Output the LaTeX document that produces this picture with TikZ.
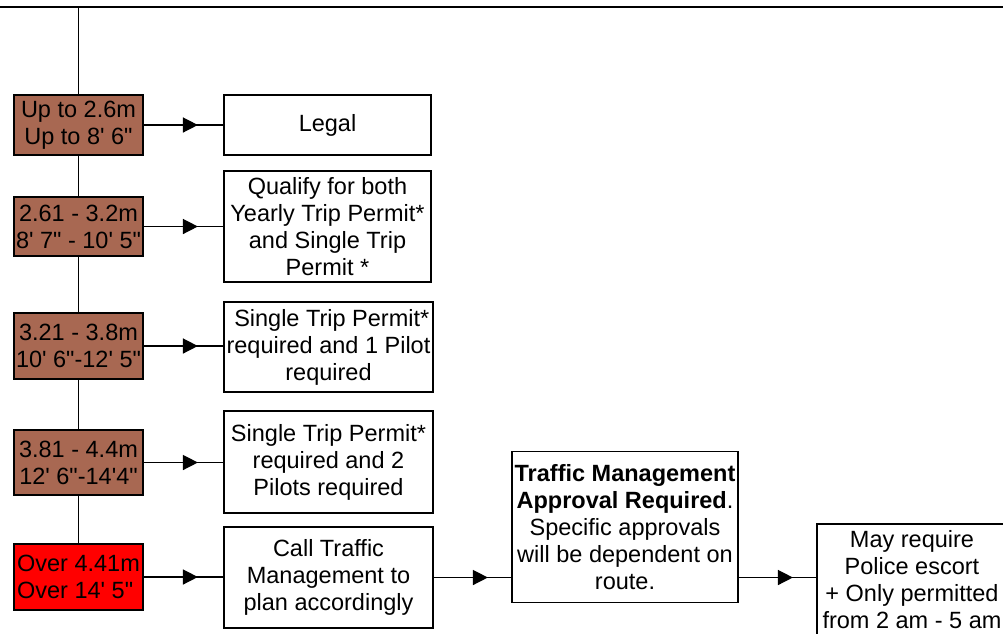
\documentclass[tikz,border=0pt]{standalone}
\usepackage{fontspec}
\setmainfont{Liberation Sans}
\usetikzlibrary{arrows.meta,decorations.markings}
\newcommand{\sq}{\textquotesingle}
\newcommand{\dq}{\textquotedbl}
\definecolor{brownfill}{RGB}{168,104,82}
\tikzset{
  box/.style={draw=black, line width=1.8pt, fill=white, inner sep=0pt, align=center,
    font=\fontsize{23.5}{27}\selectfont},
  sizebox/.style={box, fill=brownfill, minimum width=129pt},
  redbox/.style={box, fill=red, align=left, minimum width=129pt},
  infobox/.style={box},
  link/.style={line width=1.5pt},
  midarrow/.style={link, postaction={decorate},
    decoration={markings, mark=at position 54pt with {\arrow{Triangle[length=15pt,width=15pt]}}}},
}
\begin{document}
\begin{tikzpicture}[x=1pt,y=-1pt]
\useasboundingbox (0,0) rectangle (1003,633);
\clip (0,0) rectangle (1003,633);
\fill[white] (0,0) rectangle (1003,633);

% size boxes
\node[sizebox, minimum height=60.5pt] (s1) at (78.5,125) {Up to 2.6m\\Up to 8\sq{} 6\dq};
\node[sizebox, minimum height=59.5pt] (s2) at (78.5,226.5) {2.61 - 3.2m\\8\sq{} 7\dq{} - 10\sq{} 5\dq};
\node[sizebox, minimum height=66pt] (s3) at (78.5,346) {3.21 - 3.8m\\10\sq{} 6\dq-12\sq{} 5\dq};
\node[sizebox, minimum height=65pt] (s4) at (78.5,462.5) {3.81 - 4.4m\\12\sq{} 6\dq-14\sq4\dq};
\node[redbox, minimum height=66pt] (s5) at (78.5,577) {Over 4.41m\\Over 14\sq{} 5\dq};

% result boxes
\node[infobox, minimum width=207pt, minimum height=60pt] (r1) at (327.5,125) {Legal};
\node[infobox, minimum width=207pt, minimum height=111pt] (r2) at (327.5,226.5) {Qualify for both\\Yearly Trip Permit*\\and Single Trip\\Permit *};
\node[infobox, minimum width=209pt, minimum height=90pt] (r3) at (328.5,347) {\ Single Trip Permit*\\required and 1 Pilot\\required};
\node[infobox, minimum width=209pt, minimum height=102pt] (r4) at (328.5,462) {Single Trip Permit*\\required and 2\\Pilots required};
\node[infobox, minimum width=209pt, minimum height=101pt] (r5) at (328.5,577.5) {Call Traffic\\Management to\\plan accordingly};
\node[infobox, minimum width=226pt, minimum height=151pt] (tm) at (625,527) {\textbf{Traffic Management}\\\textbf{Approval Required}.\\Specific approvals\\will be dependent on\\route.};
\node[infobox, minimum width=190pt, minimum height=112pt] (last) at (912,580) {May require\\Police escort\\+ Only permitted\\from 2 am - 5 am};

% top line and spine
\coordinate (tl) at (0,7);
\coordinate (tr) at (1003,7);
\coordinate (top) at (78.5,7);
\draw[line width=2pt] (tl) -- (tr);
\draw[link] (top) -- (s1.north);
\draw[link] (s1.south) -- (s2.north);
\draw[link] (s2.south) -- (s3.north);
\draw[link] (s3.south) -- (s4.north);
\draw[link] (s4.south) -- (s5.north);

% arrows
\draw[midarrow] (s1.east) -- (s1.east -| r1.west);
\draw[midarrow] (s2.east) -- (s2.east -| r2.west);
\draw[midarrow] (s3.east) -- (s3.east -| r3.west);
\draw[midarrow] (s4.east) -- (s4.east -| r4.west);
\draw[midarrow] (s5.east) -- (s5.east -| r5.west);
\draw[midarrow] (r5.east) -- (r5.east -| tm.west);
\draw[midarrow] (tm.east |- r5.east) -- (r5.east -| last.west);
\end{tikzpicture}
\end{document}
